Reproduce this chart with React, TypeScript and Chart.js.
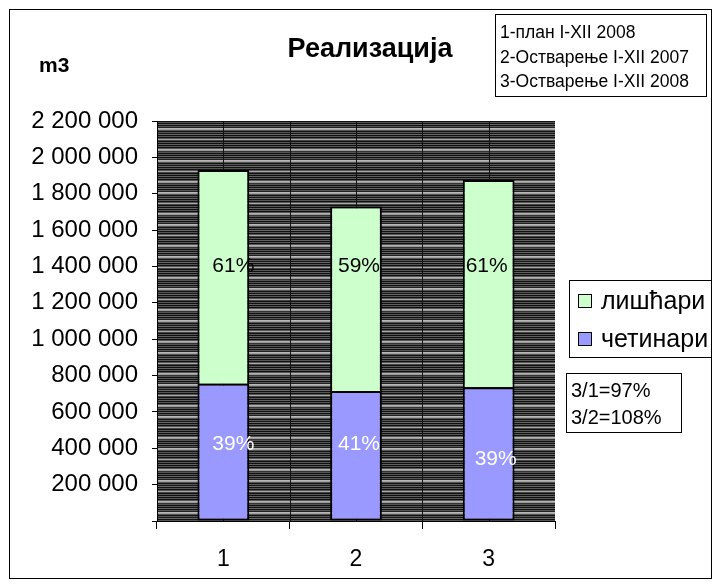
import React, { useEffect, useRef } from "react";
import { Chart, registerables } from "chart.js";

Chart.register(...registerables);

// ---- data ----
const categories = ["1", "2", "3"];
const seriesNames = ["четинари", "лишћари"];
const coniferValues = [755000, 715000, 735000];
const broadleafValues = [1175000, 1015000, 1140000];
const coniferLabels = ["39%", "41%", "39%"];
const broadleafLabels = ["61%", "59%", "61%"];
// value (in m3) at which each share label sits
const coniferLabelAt = [420000, 420000, 340000];
const broadleafLabelAt = [1400000, 1400000, 1400000];
const seriesColors = ["#9999FF", "#CCFFCC"];
const labelColors = ["#FFFFFF", "#000000"];
const yMin = 0;
const yMax = 2200000;
const yStep = 200000;
const titleText = "Реализација";
const unitText = "m3";
const periodLines = ["1-план I-XII 2008", "2-Остварење I-XII 2007", "3-Остварење I-XII 2008"];
const ratioLines = ["3/1=97%", "3/2=108%"];

const FONT = "'Liberation Sans', Arial, sans-serif";
const labelNudge = [[10, 3, 7], [10, 3, -2]];

function makePattern(): CanvasPattern | string {
  const rows = [
    "#b8b8b8", "#a0a0a0", "#555555", "#111111", "#555555", "#1a1a1a",
    "#666666", "#111111", "#555555", "#111111", "#555555", "#aaaaaa",
    "#444444", "#111111", "#555555", "#111111", "#606060", "#111111",
    "#555555", "#111111", "#555555", "#b4b4b4", "#999999", "#333333",
    "#555555", "#111111", "#555555", "#111111", "#666666", "#111111",
    "#555555", "#222222",
  ];
  const c = document.createElement("canvas");
  c.width = 4;
  c.height = rows.length;
  const g = c.getContext("2d");
  if (!g) return "#555";
  rows.forEach((col, i) => {
    g.fillStyle = col;
    g.fillRect(0, i, 4, 1);
  });
  return g.createPattern(c, "repeat") || "#555";
}

function fmt(v: number): string {
  return String(v).replace(/\B(?=(\d{3})+(?!\d))/g, " ");
}

export default function App() {
  const ref = useRef<HTMLCanvasElement | null>(null);

  useEffect(() => {
    if (!ref.current) return;
    const pattern = makePattern();

    const bgPlugin = {
      id: "bgPlugin",
      beforeDraw(chart: any) {
        const { ctx, chartArea } = chart;
        const { left, top, right, bottom } = chartArea;
        const x = chart.scales.x;
        ctx.save();
        ctx.fillStyle = pattern;
        ctx.fillRect(left, top, right - left, bottom - top);
        ctx.strokeStyle = "#111";
        ctx.lineWidth = 1;
        const xs: number[] = [];
        for (let i = 0; i < categories.length; i++) {
          xs.push(x.getPixelForValue(i));
          if (i > 0) xs.push((x.getPixelForValue(i - 1) + x.getPixelForValue(i)) / 2);
        }
        xs.forEach((px) => {
          const p = Math.round(px) + 0.5;
          ctx.beginPath();
          ctx.moveTo(p, top);
          ctx.lineTo(p, bottom);
          ctx.stroke();
        });
        ctx.restore();
      },
    };

    const labelPlugin = {
      id: "labelPlugin",
      afterDatasetsDraw(chart: any) {
        const { ctx } = chart;
        const y = chart.scales.y;
        const labelSets = [coniferLabels, broadleafLabels];
        const anchorSets = [coniferLabelAt, broadleafLabelAt];
        ctx.save();
        ctx.font = `21px ${FONT}`;
        ctx.textAlign = "center";
        ctx.textBaseline = "middle";
        chart.data.datasets.forEach((_: any, di: number) => {
          const meta = chart.getDatasetMeta(di);
          meta.data.forEach((bar: any, i: number) => {
            const cy = y.getPixelForValue(anchorSets[di][i]);
            ctx.fillStyle = labelColors[di];
            ctx.fillText(labelSets[di][i], bar.x + labelNudge[di][i], cy);
          });
        });
        ctx.restore();
      },
    };

    const overlayPlugin = {
      id: "overlayPlugin",
      afterDraw(chart: any) {
        const { ctx } = chart;
        ctx.save();
        ctx.strokeStyle = "#000";
        ctx.lineWidth = 1;
        // outer frame
        ctx.strokeRect(9.5, 9.5, 702, 569);
        // title
        ctx.fillStyle = "#000";
        ctx.textBaseline = "alphabetic";
        ctx.textAlign = "center";
        ctx.font = `bold 27px ${FONT}`;
        ctx.fillText(titleText, 370, 57);
        // unit
        ctx.textAlign = "left";
        ctx.font = `bold 21px ${FONT}`;
        ctx.fillText(unitText, 39, 72);
        // period legend
        ctx.strokeRect(495.5, 14.5, 211, 82);
        ctx.font = `17.5px ${FONT}`;
        periodLines.forEach((t, i) => {
          ctx.fillText(t, 500, 38 + i * 24.5);
        });
        // series legend
        ctx.strokeRect(569.5, 280.5, 142, 77);
        ctx.font = `25px ${FONT}`;
        const order = [1, 0];
        order.forEach((di, k) => {
          const cy = 301 + k * 38;
          ctx.fillStyle = seriesColors[di];
          ctx.fillRect(578.5, cy - 6.5, 13, 13);
          ctx.strokeRect(578.5, cy - 6.5, 13, 13);
          ctx.fillStyle = "#000";
          ctx.fillText(seriesNames[di], 601, cy + 8);
        });
        // ratio box
        ctx.strokeRect(566.5, 373.5, 115, 59);
        ctx.font = `20px ${FONT}`;
        ratioLines.forEach((t, i) => {
          ctx.fillText(t, 571, 397 + i * 27);
        });
        ctx.restore();
      },
    };

    const chart = new Chart(ref.current, {
      type: "bar",
      data: {
        labels: categories,
        datasets: [
          {
            label: seriesNames[0],
            data: coniferValues,
            backgroundColor: seriesColors[0],
            borderColor: "#000",
            borderWidth: 2,
            borderSkipped: false,
          },
          {
            label: seriesNames[1],
            data: broadleafValues,
            backgroundColor: seriesColors[1],
            borderColor: "#000",
            borderWidth: { top: 2, left: 2, right: 2, bottom: 0 },
            borderSkipped: false,
          },
        ],
      },
      options: {
        animation: false,
        responsive: true,
        maintainAspectRatio: false,
        datasets: { bar: { categoryPercentage: 1, barPercentage: 0.39 } },
        layout: { padding: { left: 0, top: 121, right: 165, bottom: 0 } },
        plugins: {
          legend: { display: false },
          title: { display: false },
          tooltip: { enabled: false },
        },
        scales: {
          x: {
            stacked: true,
            offset: true,
            grid: {
              offset: true,
              drawOnChartArea: false,
              drawTicks: true,
              tickLength: 8,
              color: "#000",
            },
            border: { display: true, color: "#000", width: 1 },
            ticks: {
              color: "#000",
              font: { family: FONT, size: 23 },
              padding: 17,
            },
            afterFit(scale: any) {
              scale.height = 67;
            },
          },
          y: {
            stacked: true,
            min: yMin,
            max: yMax,
            grid: {
              drawOnChartArea: false,
              drawTicks: true,
              tickLength: 5,
              color: "#000",
            },
            border: { display: true, color: "#000", width: 1 },
            ticks: {
              stepSize: yStep,
              color: "#000",
              font: { family: FONT, size: 24 },
              padding: 14,
              callback: (v: any) => (Number(v) === 0 ? "" : fmt(Number(v))),
            },
            afterFit(scale: any) {
              scale.width = 157;
            },
          },
        },
      },
      plugins: [bgPlugin, labelPlugin, overlayPlugin],
    } as any);

    return () => chart.destroy();
  }, []);

  return (
    <div style={{ position: "fixed", left: 0, top: 0, width: 720, height: 588, background: "#fff" }}>
      <canvas ref={ref} />
    </div>
  );
}
